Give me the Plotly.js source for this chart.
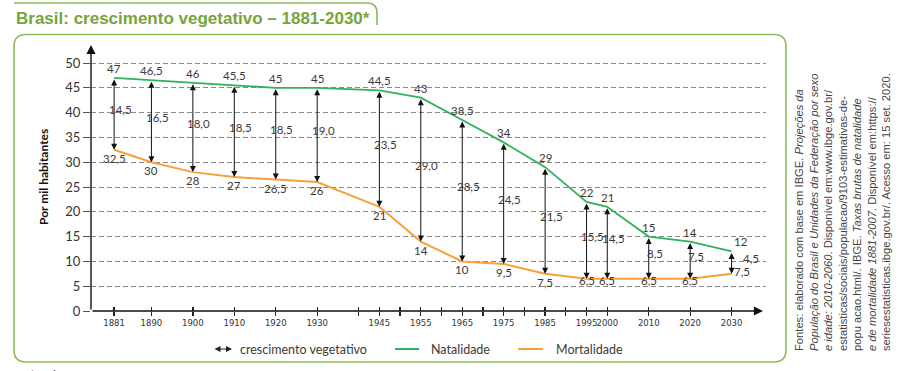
<!DOCTYPE html>
<html>
<head>
<meta charset="utf-8">
<script src="https://cdn.plot.ly/plotly-3.0.1.min.js"></script>
<style>html,body{margin:0;padding:0;background:#fff;}#chart{width:900px;height:371px;}</style>
</head>
<body>
<div id="chart"></div>
<script>
// ---- data ----
const years = [1881, 1890, 1900, 1910, 1920, 1930, 1945, 1955, 1965, 1975, 1985, 1995, 2000, 2010, 2020, 2030];
const yearLabels = ['1881','1890','1900','1910','1920','1930','1945','1955','1965','1975','1985','1995','2000','2010','2020','2030'];
const natalidade = [47, 46.5, 46, 45.5, 45, 45, 44.5, 43, 38.5, 34, 29, 22, 21, 15, 14, 12];
const mortalidade = [32.5, 30, 28, 27, 26.5, 26, 21, 14, 10, 9.5, 7.5, 6.5, 6.5, 6.5, 6.5, 7.5];
const extraTicks = [1940, 1950, 1960, 1970, 1980, 1990];
const yTicks = [0, 5, 10, 15, 20, 25, 30, 35, 40, 45, 50];

const titleText = 'Brasil: crescimento vegetativo – 1881-2030*';
const yTitle = 'Por mil habitantes';
const legendLabels = ['crescimento vegetativo', 'Natalidade', 'Mortalidade'];
const sourceLines = [
  'Fontes: elaborado com base em IBGE. <i>Projeções da</i>',
  '<i>População do Brasil e Unidades da Federação por sexo</i>',
  '<i>e idade: 2010-2060</i>. Disponível em:www.ibge.gov.br/',
  'estatisticas/sociais/populacao/9103-estimativas-de-',
  'popu acao.html/. IBGE. <i>Taxas brutas de natalidade</i>',
  '<i>e de mortalidade 1881-2007</i>. Disponível em:https://',
  'seriesestatisticas.ibge.gov.br/. Acesso em: 15 set. 2020.'
];
const footnote = '*Projeção.';

// ---- styles ----
const GREEN = '#2fb25a', ORANGE = '#f9a03c', FRAME = '#8dbb5a', TITLE = '#77a43b', TXT = '#3a3a3a';
const M = {l: 91, r: 134, t: 45, b: 60};
const W = 900, H = 371, PW = W - M.l - M.r, PH = H - M.t - M.b;
const px = x => (x - M.l) / PW;
const py = y => (H - M.b - y) / PH;
const P = (x, y) => px(x).toFixed(5) + ',' + py(y).toFixed(5);

const fmt = v => Number.isInteger(v) ? String(v) : v.toFixed(1).replace('.', ',');
const fmt1 = v => v.toFixed(1).replace('.', ',');
const numFont = {family: 'Lato, "Open Sans", sans-serif', size: 11.5, color: TXT};

const xRange = [1875.42, 2038.3];
const tickvals = years.concat(extraTicks);
const ticktext = yearLabels.concat(extraTicks.map(() => ''));

const traces = [
  {x: years, y: natalidade, type: 'scatter', mode: 'lines', line: {color: GREEN, width: 1.8}, hoverinfo: 'skip'},
  {x: years, y: mortalidade, type: 'scatter', mode: 'lines', line: {color: ORANGE, width: 2}, hoverinfo: 'skip'},
  {x: [years[0]], y: [0], xaxis: 'x2', type: 'scatter', mode: 'markers', marker: {opacity: 0}, hoverinfo: 'skip'}
];

const ann = [];
// growth arrows and labels
years.forEach((yr, i) => {
  const n = natalidade[i], m = mortalidade[i], g = n - m;
  ann.push({x: yr, y: m, ax: yr, ay: n, xref: 'x', yref: 'y', axref: 'x', ayref: 'y', text: '',
    showarrow: true, arrowside: 'end+start', arrowhead: 2, arrowsize: 1.2, arrowwidth: 1, arrowcolor: '#111',
    standoff: 0, startstandoff: 0});
  const last = i === years.length - 1;
  ann.push({x: yr, y: (n + m) / 2, xref: 'x', yref: 'y', text: fmt1(g), showarrow: false,
    font: numFont, xshift: last ? 19 : 6, yshift: 4});
  ann.push({x: yr, y: n, xref: 'x', yref: 'y', text: fmt(n), showarrow: false, font: numFont,
    yanchor: 'bottom', yshift: 1, xshift: last ? 9 : 0});
  const low = (i >= 11 && i <= 14);
  ann.push({x: yr, y: m, xref: 'x', yref: 'y', text: fmt(m), showarrow: false, font: numFont,
    yanchor: last ? 'middle' : 'top', yshift: last ? 2 : (low ? 7 : 0), xshift: last ? 10 : 0});
});

// axes arrows
ann.push({x: px(763), y: 0, xref: 'paper', yref: 'paper', ax: -(763 - M.l), ay: 0, text: '', showarrow: true,
  arrowhead: 2, arrowsize: 1.3, arrowwidth: 1.4, arrowcolor: '#111', standoff: 0});
ann.push({x: 0, y: 1, xref: 'paper', yref: 'paper', ax: 0, ay: PH, text: '', showarrow: true,
  arrowhead: 2, arrowsize: 1.3, arrowwidth: 1.4, arrowcolor: '#111', standoff: 0});

// y title
ann.push({x: px(43), y: py(177), xref: 'paper', yref: 'paper', xanchor: 'center', yanchor: 'middle',
  text: '<b>' + yTitle + '</b>', textangle: -90,
  showarrow: false, font: {family: 'Lato, sans-serif', size: 12, color: '#111'}});
// title
ann.push({x: px(14), y: py(18), xref: 'paper', yref: 'paper', xanchor: 'left', yanchor: 'middle',
  text: '<b>' + titleText + '</b>', showarrow: false,
  font: {family: '"Liberation Sans", Arial, sans-serif', size: 17, color: TITLE}});
// source
ann.push({x: px(842), y: py(353), xref: 'paper', yref: 'paper', xanchor: 'center', yanchor: 'bottom',
  text: sourceLines.join('<br>'), align: 'left',
  textangle: -90, showarrow: false, font: {family: '"Liberation Sans", Arial, sans-serif', size: 11.2, color: '#444'}});
// footnote
ann.push({x: px(28), y: py(365), xref: 'paper', yref: 'paper', xanchor: 'left', yanchor: 'top', text: footnote,
  showarrow: false, font: {family: 'Lato, sans-serif', size: 12, color: TXT}});

// legend
const legFont = {family: 'Lato, sans-serif', size: 12.5, color: TXT};
ann.push({x: px(232), y: py(349), xref: 'paper', yref: 'paper', ax: -19, ay: 0, text: '', showarrow: true,
  arrowside: 'end+start', arrowhead: 2, arrowsize: 1, arrowwidth: 1.2, arrowcolor: '#222', standoff: 0, startstandoff: 0});
ann.push({x: px(238), y: py(349), xref: 'paper', yref: 'paper', xanchor: 'left', yanchor: 'middle', text: legendLabels[0], showarrow: false, font: legFont});
ann.push({x: px(429), y: py(349), xref: 'paper', yref: 'paper', xanchor: 'left', yanchor: 'middle', text: legendLabels[1], showarrow: false, font: legFont});
ann.push({x: px(554), y: py(349), xref: 'paper', yref: 'paper', xanchor: 'left', yanchor: 'middle', text: legendLabels[2], showarrow: false, font: legFont});

const L = 14, T = 34.5, R = 786, B = 362, r = 12;
const shapes = [
  {type: 'path', xref: 'paper', yref: 'paper', line: {color: FRAME, width: 1.6},
   path: `M ${P(L, T + r)} Q ${P(L, T)} ${P(L + r, T)} L ${P(R - r, T)} Q ${P(R, T)} ${P(R, T + r)} L ${P(R, B - r)} Q ${P(R, B)} ${P(R - r, B)} L ${P(L + r, B)} Q ${P(L, B)} ${P(L, B - r)} Z`},
  {type: 'path', xref: 'paper', yref: 'paper', line: {color: FRAME, width: 1.6},
   path: `M ${P(14, 3)} L ${P(367, 3)} Q ${P(377, 3)} ${P(377, 13)} L ${P(377, 25)}`},
  {type: 'line', xref: 'paper', yref: 'paper', x0: px(395), x1: px(419), y0: py(349), y1: py(349), line: {color: GREEN, width: 2}},
  {type: 'line', xref: 'paper', yref: 'paper', x0: px(518), x1: px(543), y0: py(349), y1: py(349), line: {color: ORANGE, width: 2}}
];

const layout = {
  width: W, height: H, margin: M, paper_bgcolor: '#fff', plot_bgcolor: '#fff', showlegend: false,
  xaxis: {range: xRange, tickmode: 'array', tickvals: tickvals, ticktext: ticktext, tickangle: 0, ticks: 'outside', ticklen: 4,
    tickwidth: 1.3, tickcolor: '#222', showgrid: false, zeroline: false, showline: false, fixedrange: true,
    tickfont: {family: '"DejaVu Sans", Verdana, sans-serif', size: 8.5, color: '#333'}},
  xaxis2: {range: xRange, overlaying: 'x', anchor: 'y', side: 'bottom', tickmode: 'array', tickvals: tickvals,
    ticks: 'inside', ticklen: 4, tickwidth: 1.3, tickcolor: '#222', showticklabels: false, showgrid: false,
    zeroline: false, showline: false, fixedrange: true},
  yaxis: {range: [0, PH / 4.96], tickmode: 'array', tickvals: yTicks, ticks: 'outside', ticklen: 7, tickcolor: '#555',
    showgrid: true, gridcolor: '#8a8a8a', gridwidth: 1, griddash: '5px,3px', zeroline: false, showline: false,
    fixedrange: true, tickfont: {family: 'Lato, sans-serif', size: 13, color: '#333'}},
  annotations: ann,
  shapes: shapes
};

Plotly.newPlot('chart', traces, layout, {staticPlot: true, displayModeBar: false});
</script>
</body>
</html>
